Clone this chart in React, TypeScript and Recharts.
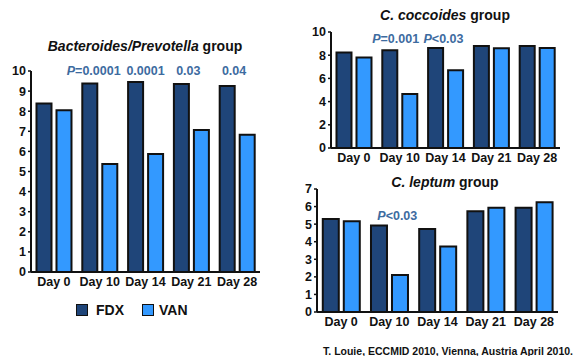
import { BarChart, Bar, XAxis, YAxis, ReferenceDot } from 'recharts'

const days = ['Day 0', 'Day 10', 'Day 14', 'Day 21', 'Day 28']

const bactFdx = [8.38, 9.38, 9.45, 9.35, 9.25]
const bactVan = [8.05, 5.37, 5.87, 7.07, 6.83]
const bactTicks = [0, 1, 2, 3, 4, 5, 6, 7, 8, 9, 10]
const bactNotes = [
  { day: 'Day 10', prefix: 'P', text: '=0.0001' },
  { day: 'Day 14', prefix: '', text: '0.0001' },
  { day: 'Day 21', prefix: '', text: '0.03' },
  { day: 'Day 28', prefix: '', text: '0.04' },
]

const coccFdx = [8.23, 8.43, 8.63, 8.8, 8.8]
const coccVan = [7.8, 4.66, 6.71, 8.6, 8.63]
const coccTicks = [0, 2, 4, 6, 8, 10]
const coccNotes = [
  { day: 'Day 10', prefix: 'P', text: '=0.001' },
  { day: 'Day 14', prefix: 'P', text: '<0.03' },
]

const leptFdx = [5.29, 4.92, 4.73, 5.74, 5.93]
const leptVan = [5.17, 2.11, 3.73, 5.93, 6.24]
const leptTicks = [0, 1, 2, 3, 4, 5, 6, 7]
const leptNotes = [{ day: 'Day 10', prefix: 'P', text: '<0.03' }]

const FDX = '#1f4579'
const VAN = '#3399ff'
const NOTE = '#3d6b9f'
const FONT = '"Liberation Sans", Arial, sans-serif'

const toRows = (fdx: number[], van: number[]) => days.map((d, i) => ({ day: d, fdx: fdx[i], van: van[i] }))

function NoteLabel(props: any) {
  const { viewBox, prefix, text, dx = 0 } = props
  if (!viewBox) return null
  return (
    <text x={viewBox.x + dx} y={viewBox.y} textAnchor="middle" dominantBaseline="central"
      fontFamily={FONT} fontSize={12.5} fontWeight="bold" fill={NOTE}>
      {prefix ? <tspan fontStyle="italic">{prefix}</tspan> : null}
      <tspan>{text}</tspan>
    </text>
  )
}

function Panel({ rows, ticks, max, notes, noteY, noteDx, width, height, margin, yWidth }: any) {
  const tick = { fontSize: 12.5, fontWeight: 'bold', fill: '#111', fontFamily: FONT }
  return (
    <BarChart width={width} height={height} data={rows} margin={margin} barCategoryGap="12%" barGap={5}>
      <XAxis dataKey="day" tick={tick} tickLine={false} tickSize={0} tickMargin={5} height={22}
        axisLine={{ stroke: '#111', strokeWidth: 2 }} interval={0} />
      <YAxis domain={[0, max]} ticks={ticks} tick={tick} tickSize={3} width={yWidth} interval={0}
        axisLine={{ stroke: '#111', strokeWidth: 2 }} tickLine={{ stroke: '#111', strokeWidth: 1.5 }} />
      <Bar dataKey="fdx" fill={FDX} stroke="#111" strokeWidth={2} isAnimationActive={false} />
      <Bar dataKey="van" fill={VAN} stroke="#111" strokeWidth={2} isAnimationActive={false} />
      {notes.map((n: any, i: number) => (
        <ReferenceDot key={i} x={n.day} y={noteY} r={0} fill="none" stroke="none" ifOverflow="visible"
          label={<NoteLabel prefix={n.prefix} text={n.text} dx={noteDx[i] ?? 0} />} />
      ))}
    </BarChart>
  )
}

const titleStyle: any = {
  position: 'absolute', fontFamily: FONT, fontWeight: 'bold', fontSize: 14, color: '#111',
  textAlign: 'center', whiteSpace: 'nowrap', lineHeight: '16px',
}

export default function App() {
  return (
    <div style={{ position: 'absolute', left: 0, top: 0, width: 576, height: 356, background: '#fff', overflow: 'hidden' }}>
      <div style={{ ...titleStyle, left: 0, width: 290, top: 38 }}>
        <i>Bacteroides/Prevotella</i> group
      </div>
      <div style={{ position: 'absolute', left: 0, top: 0 }}>
        <Panel rows={toRows(bactFdx, bactVan)} ticks={bactTicks} max={10} notes={bactNotes} noteY={10}
          noteDx={[-6, 0, -3, -3]} width={290} height={300} yWidth={31}
          margin={{ top: 71, right: 30, bottom: 6, left: 0 }} />
      </div>

      <div style={{ ...titleStyle, left: 310, width: 270, top: 7 }}>
        <i>C. coccoides</i> group
      </div>
      <div style={{ position: 'absolute', left: 300, top: 0 }}>
        <Panel rows={toRows(coccFdx, coccVan)} ticks={coccTicks} max={10} notes={coccNotes} noteY={9.4}
          noteDx={[-4, -2]} width={276} height={170} yWidth={31}
          margin={{ top: 32, right: 16, bottom: 0, left: 0 }} />
      </div>

      <div style={{ ...titleStyle, left: 310, width: 270, top: 174 }}>
        <i>C. leptum</i> group
      </div>
      <div style={{ position: 'absolute', left: 300, top: 170 }}>
        <Panel rows={toRows(leptFdx, leptVan)} ticks={leptTicks} max={7} notes={leptNotes} noteY={5.46}
          noteDx={[8]} width={276} height={186} yWidth={17}
          margin={{ top: 19, right: 18, bottom: 22, left: 0 }} />
      </div>

      <div style={{ position: 'absolute', left: 76, top: 302, display: 'flex', alignItems: 'center',
        fontFamily: FONT, fontWeight: 'bold', fontSize: 14, color: '#111' }}>
        <span style={{ width: 10, height: 10, background: FDX, border: '1px solid #111', marginRight: 8 }} />
        <span style={{ marginRight: 18 }}>FDX</span>
        <span style={{ width: 10, height: 10, background: VAN, border: '1px solid #111', marginRight: 5 }} />
        <span>VAN</span>
      </div>

      <div style={{ position: 'absolute', right: 3, top: 345, fontFamily: FONT, fontWeight: 'bold',
        fontSize: 10.5, color: '#111', whiteSpace: 'nowrap' }}>
        T. Louie, ECCMID 2010, Vienna, Austria April 2010.
      </div>
    </div>
  )
}
